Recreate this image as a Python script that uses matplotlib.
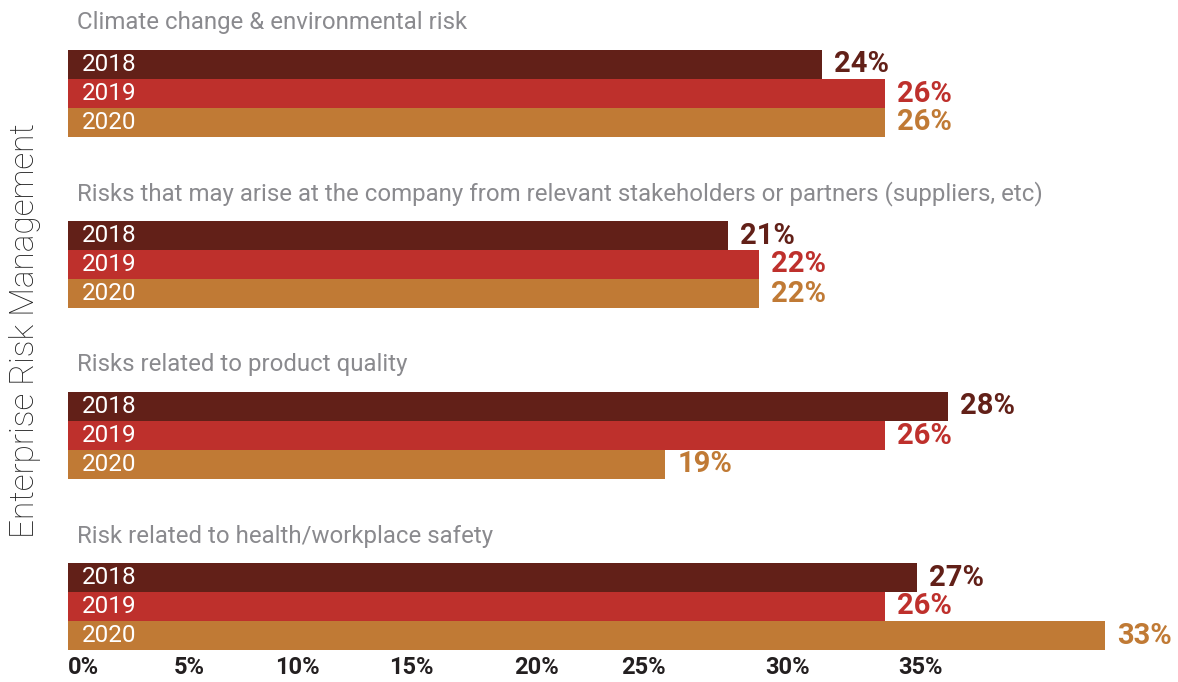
import matplotlib
matplotlib.use("Agg")
import matplotlib.pyplot as plt

# data
categories = ["Climate change & environmental risk",
              "Risks that may arise at the company from relevant stakeholders or partners (suppliers, etc)",
              "Risks related to product quality",
              "Risk related to health/workplace safety"]
years = ["2018", "2019", "2020"]
v2018 = [24, 21, 28, 27]
v2019 = [26, 22, 26, 26]
v2020 = [26, 22, 19, 33]
tick_labels = ["0%", "5%", "10%", "15%", "20%", "25%", "30%", "35%"]

colors = ["#622018", "#BE302C", "#C07A35"]
plt.rcParams["font.family"] = ["Roboto", "DejaVu Sans"]

W, H = 1178, 682
px_per_pct = 31.43
x0 = 68  # pixel where 0% sits

fig = plt.figure(figsize=(W / 100, H / 100), dpi=100)
ax = fig.add_axes([0, 0, 1, 1])
ax.set_xlim(-x0 / px_per_pct, (W - x0) / px_per_pct)
ax.set_ylim(H, 0)
ax.axis("off")

group_top = 50
group_step = 171
bar_h = 29

series = [v2018, v2019, v2020]
for i, cat in enumerate(categories):
    top = group_top + i * group_step
    ax.text(0.3, top - 27, cat, fontsize=17.3, color="#8a8a8e",
            va="center", ha="left")
    for j, vals in enumerate(series):
        yc = top + j * bar_h + bar_h / 2
        ax.barh(yc, vals[i], height=bar_h, left=0, color=colors[j])
        ax.annotate(years[j], xy=(0, yc), xytext=(14, 0), textcoords="offset pixels",
                    ha="left", va="center", color="white", fontsize=17.5)
        ax.annotate(f"{vals[i]}%", xy=(vals[i], yc), xytext=(12, 0),
                    textcoords="offset pixels", ha="left", va="center",
                    color=colors[j], fontsize=21, fontweight="bold")

# axis tick labels (positions as printed in the original, unevenly spaced)
tick_pos = [0, 3.37, 6.6, 10.2, 14.2, 17.6, 22.2, 26.4]
for p, lab in zip(tick_pos, tick_labels):
    ax.text(p, 667, lab, ha="left", va="center", fontsize=17,
            fontweight="bold", color="#231f20")

fig.text(0.021, 0.516, "Enterprise Risk Management", rotation=90,
         ha="center", va="center", fontsize=24, fontweight="light", color="#222222")

fig.savefig("out.png", dpi=100)
